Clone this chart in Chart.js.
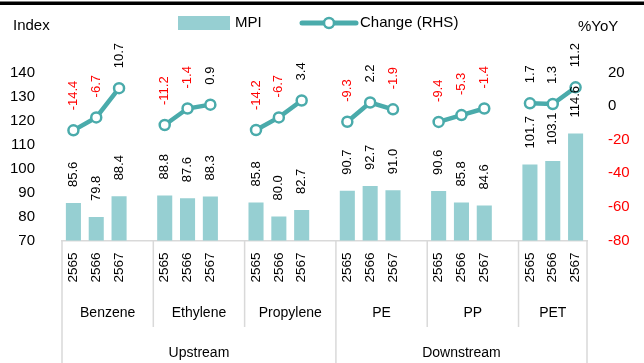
<!DOCTYPE html>
<html>
<head>
<meta charset="utf-8">
<script src="https://cdn.jsdelivr.net/npm/chart.js@4.4.1/dist/chart.umd.min.js"></script>
<style>
  html, body { margin: 0; padding: 0; background: #fff; }
  #wrap { width: 644px; height: 363px; position: relative; }
</style>
</head>
<body>
<div id="wrap"><canvas id="chart"></canvas></div>
<script>
// data
const groups = ["Upstream", "Downstream"];
const products = ["Benzene", "Ethylene", "Propylene", "PE", "PP", "PET"];
const productGroup = [0, 0, 0, 1, 1, 1];
const years = ["2565", "2566", "2567"];

const mpiBenzene = [85.6, 79.8, 88.4];
const mpiEthylene = [88.8, 87.6, 88.3];
const mpiPropylene = [85.8, 80.0, 82.7];
const mpiPE = [90.7, 92.7, 91.0];
const mpiPP = [90.6, 85.8, 84.6];
const mpiPET = [101.7, 103.1, 114.6];

const chgBenzene = [-14.4, -6.7, 10.7];
const chgEthylene = [-11.2, -1.4, 0.9];
const chgPropylene = [-14.2, -6.7, 3.4];
const chgPE = [-9.3, 2.2, -1.9];
const chgPP = [-9.4, -5.3, -1.4];
const chgPET = [1.7, 1.3, 11.2];

const leftTicks = [70, 80, 90, 100, 110, 120, 130, 140];
const rightTicks = [-80, -60, -40, -20, 0, 20];

const FONT = '"Liberation Sans", Arial, sans-serif';
const BAR_COLOR = "#96cfd2";
const LINE_COLOR = "#4aabab";
const RED = "#ff0000";

// flatten into categories (a blank slot between products)
const mpiAll = [mpiBenzene, mpiEthylene, mpiPropylene, mpiPE, mpiPP, mpiPET];
const chgAll = [chgBenzene, chgEthylene, chgPropylene, chgPE, chgPP, chgPET];
const labels = [], mpiData = [], chgData = [], productStart = [];
products.forEach((p, i) => {
  productStart.push(labels.length);
  years.forEach((y, j) => {
    labels.push(y);
    mpiData.push(mpiAll[i][j]);
    chgData.push(chgAll[i][j]);
  });
  if (i < products.length - 1) {
    labels.push("");
    mpiData.push(null);
    chgData.push(null);
  }
});

const fmt = v => v.toFixed(1);

const decorPlugin = {
  id: "decor",
  afterDraw(chart) {
    const ctx = chart.ctx;
    const area = chart.chartArea;
    const x = chart.scales.x;
    ctx.save();

    // top black strip
    ctx.fillStyle = "#000";
    ctx.fillRect(0, 1.5, 644, 3.5);

    // axis titles
    ctx.fillStyle = "#000";
    ctx.font = "15px " + FONT;
    ctx.textBaseline = "middle";
    ctx.textAlign = "left";
    ctx.fillText("Index", 13, 26);
    ctx.fillText("%YoY", 578, 27);

    // legend
    ctx.fillStyle = BAR_COLOR;
    ctx.fillRect(178, 16, 52, 14);
    ctx.fillStyle = "#000";
    ctx.fillText("MPI", 235, 23);
    ctx.strokeStyle = LINE_COLOR;
    ctx.lineWidth = 5;
    ctx.lineCap = "round";
    ctx.beginPath();
    ctx.moveTo(302, 23);
    ctx.lineTo(356, 23);
    ctx.stroke();
    ctx.fillStyle = "#fff";
    ctx.lineWidth = 2.5;
    ctx.beginPath();
    ctx.arc(329, 23, 5, 0, Math.PI * 2);
    ctx.fill();
    ctx.stroke();
    ctx.fillStyle = "#000";
    ctx.fillText("Change (RHS)", 360, 23);

    // data labels
    ctx.font = "13px " + FONT;
    const barMeta = chart.getDatasetMeta(0);
    barMeta.data.forEach((el, i) => {
      const v = mpiData[i];
      if (v == null) return;
      ctx.save();
      ctx.translate(el.x, el.y - 16);
      ctx.rotate(-Math.PI / 2);
      ctx.textAlign = "left";
      ctx.fillStyle = "#000";
      ctx.fillText(fmt(v), 0, 0);
      ctx.restore();
    });
    const lineMeta = chart.getDatasetMeta(1);
    lineMeta.data.forEach((el, i) => {
      const v = chgData[i];
      if (v == null) return;
      ctx.save();
      ctx.translate(el.x, el.y - 20);
      ctx.rotate(-Math.PI / 2);
      ctx.textAlign = "left";
      ctx.fillStyle = v < 0 ? RED : "#000";
      ctx.fillText(fmt(v), 0, 0);
      ctx.restore();
    });

    // multi-level category axis
    const catW = x.getPixelForValue(1) - x.getPixelForValue(0);
    const base = area.bottom;
    ctx.fillStyle = "#000";
    ctx.font = "13.5px " + FONT;
    labels.forEach((lab, i) => {
      if (!lab) return;
      ctx.save();
      ctx.translate(x.getPixelForValue(i), base + 12);
      ctx.rotate(-Math.PI / 2);
      ctx.textAlign = "right";
      ctx.fillText(lab, 0, 0);
      ctx.restore();
    });

    ctx.strokeStyle = "#d9d9d9";
    ctx.lineWidth = 1.5;
    ctx.lineCap = "butt";
    ctx.font = "14px " + FONT;
    ctx.textAlign = "center";
    const bounds = productStart.map(s => x.getPixelForValue(s) - catW / 2);
    bounds.push(area.right);
    products.forEach((p, i) => {
      const l = bounds[i], r = bounds[i + 1];
      ctx.fillText(p, (l + r) / 2, 313);
      const groupEdge = i === 0 || productGroup[i] !== productGroup[i - 1];
      ctx.beginPath();
      ctx.moveTo(l, base);
      ctx.lineTo(l, groupEdge ? 363 : 327);
      ctx.stroke();
    });
    ctx.beginPath();
    ctx.moveTo(area.right, base);
    ctx.lineTo(area.right, 363);
    ctx.stroke();

    groups.forEach((g, gi) => {
      const idx = products.map((p, i) => i).filter(i => productGroup[i] === gi);
      const l = bounds[idx[0]], r = bounds[idx[idx.length - 1] + 1];
      ctx.fillText(g, (l + r) / 2, 353);
    });

    ctx.restore();
  }
};

new Chart(document.getElementById("chart"), {
  data: {
    labels,
    datasets: [
      {
        type: "bar",
        label: "MPI",
        data: mpiData,
        backgroundColor: BAR_COLOR,
        yAxisID: "y",
        barPercentage: 0.66,
        categoryPercentage: 1,
        order: 2
      },
      {
        type: "line",
        label: "Change (RHS)",
        data: chgData,
        borderColor: LINE_COLOR,
        borderWidth: 4.5,
        pointRadius: 5,
        pointBorderWidth: 2.5,
        pointBackgroundColor: "#fff",
        pointBorderColor: LINE_COLOR,
        spanGaps: false,
        tension: 0,
        yAxisID: "y2",
        order: 1
      }
    ]
  },
  options: {
    responsive: true,
    maintainAspectRatio: false,
    animation: false,
    layout: { padding: { top: 39, left: 0, right: 0, bottom: 0 } },
    plugins: { legend: { display: false }, tooltip: { enabled: false } },
    scales: {
      x: {
        offset: true,
        grid: { display: false },
        border: { display: true, color: "#d9d9d9", width: 1.5 },
        ticks: { display: false },
        afterFit: s => { s.height = 122.5; }
      },
      y: {
        position: "left",
        min: 70,
        max: 154,
        grid: { display: false, drawTicks: false },
        border: { display: false },
        afterBuildTicks: s => { s.ticks = leftTicks.map(v => ({ value: v })); },
        ticks: { padding: 27, color: "#000", font: { family: FONT, size: 15 } },
        afterFit: s => { s.width = 62; }
      },
      y2: {
        position: "right",
        min: -80,
        max: 40,
        grid: { display: false, drawTicks: false },
        border: { display: false },
        afterBuildTicks: s => { s.ticks = rightTicks.map(v => ({ value: v })); },
        ticks: {
          padding: 21,
          color: c => (c.tick && c.tick.value < 0 ? RED : "#000"),
          font: { family: FONT, size: 15 }
        },
        afterFit: s => { s.width = 57; }
      }
    }
  },
  plugins: [decorPlugin]
});
</script>
</body>
</html>
